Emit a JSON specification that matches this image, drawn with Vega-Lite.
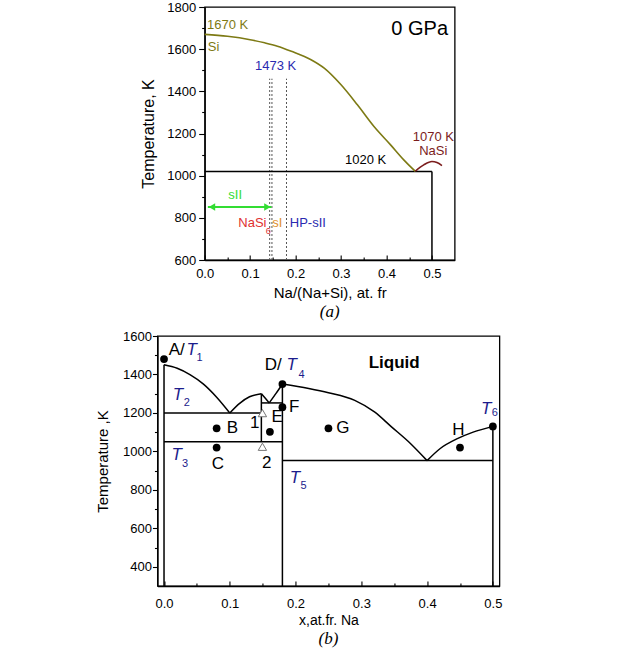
{
  "$schema": "https://vega.github.io/schema/vega-lite/v6.json",
  "padding": {"left": 94, "top": 0, "right": 0, "bottom": 0},
  "center": true,
  "align": "all",
  "spacing": 8,
  "config": {
    "font": "Liberation Sans",
    "view": {"stroke": "black", "strokeWidth": 1.3},
    "axis": {
      "grid": false,
      "domainColor": "black",
      "domainWidth": 1.3,
      "tickColor": "black",
      "tickWidth": 1.1,
      "labelColor": "black",
      "labelFont": "Liberation Sans",
      "titleFont": "Liberation Sans",
      "titleFontWeight": "normal",
      "titleColor": "black",
      "labelFlush": false,
      "labelOverlap": false
    },
    "text": {"font": "Liberation Sans", "baseline": "middle"}
  },
  "datasets": {
    "aBlack": [
      {"seg": "h", "i": 0, "x": 0, "t": 1020}, {"seg": "h", "i": 1, "x": 0.5, "t": 1020},
      {"seg": "v", "i": 0, "x": 0.5, "t": 1020}, {"seg": "v", "i": 1, "x": 0.5, "t": 600}
    ],
    "aDot": [
      {"seg": "d1", "i": 0, "x": 0.143, "t": 600}, {"seg": "d1", "i": 1, "x": 0.143, "t": 1460},
      {"seg": "d2", "i": 0, "x": 0.148, "t": 600}, {"seg": "d2", "i": 1, "x": 0.148, "t": 1460},
      {"seg": "d3", "i": 0, "x": 0.18, "t": 600}, {"seg": "d3", "i": 1, "x": 0.18, "t": 1460}
    ],
    "aSi": [
      {"x": 0, "t": 1670}, {"x": 0.05, "t": 1661}, {"x": 0.1, "t": 1645}, {"x": 0.132, "t": 1630},
      {"x": 0.16, "t": 1614}, {"x": 0.1906, "t": 1590}, {"x": 0.234, "t": 1550}, {"x": 0.263, "t": 1510},
      {"x": 0.3, "t": 1431}, {"x": 0.336, "t": 1336}, {"x": 0.3725, "t": 1233}, {"x": 0.409, "t": 1146},
      {"x": 0.438, "t": 1075}, {"x": 0.4636, "t": 1020}
    ],
    "aNaSi": [
      {"x": 0.4636, "t": 1022}, {"x": 0.482, "t": 1051}, {"x": 0.5, "t": 1067}, {"x": 0.511, "t": 1062}, {"x": 0.522, "t": 1048}
    ],
    "aArrow": [
      {"x": 0.007, "t": 851}, {"x": 0.147, "t": 851}
    ],
    "aArrowHead": [
      {"x": 0.016, "t": 851, "dir": "left"}, {"x": 0.138, "t": 851, "dir": "right"}
    ],
    "bLines": [
      {"seg": "L1", "i": 0, "x": 0, "t": 1450}, {"seg": "L1", "i": 1, "x": 0.02, "t": 1432}, {"seg": "L1", "i": 2, "x": 0.04, "t": 1398},
      {"seg": "L1", "i": 3, "x": 0.06, "t": 1350}, {"seg": "L1", "i": 4, "x": 0.08, "t": 1282}, {"seg": "L1", "i": 5, "x": 0.1, "t": 1200},
      {"seg": "L2", "i": 0, "x": 0.1, "t": 1200}, {"seg": "L2", "i": 1, "x": 0.115, "t": 1250}, {"seg": "L2", "i": 2, "x": 0.13, "t": 1284}, {"seg": "L2", "i": 3, "x": 0.148, "t": 1300},
      {"seg": "L3", "i": 0, "x": 0.148, "t": 1300}, {"seg": "L3", "i": 1, "x": 0.155, "t": 1272}, {"seg": "L3", "i": 2, "x": 0.16, "t": 1252},
      {"seg": "L4", "i": 0, "x": 0.16, "t": 1252}, {"seg": "L4", "i": 1, "x": 0.17, "t": 1300}, {"seg": "L4", "i": 2, "x": 0.18, "t": 1350},
      {"seg": "L5", "i": 0, "x": 0.18, "t": 1350}, {"seg": "L5", "i": 1, "x": 0.22, "t": 1327}, {"seg": "L5", "i": 2, "x": 0.25, "t": 1305},
      {"seg": "L5", "i": 3, "x": 0.29, "t": 1265}, {"seg": "L5", "i": 4, "x": 0.32, "t": 1205}, {"seg": "L5", "i": 5, "x": 0.345, "t": 1130},
      {"seg": "L5", "i": 6, "x": 0.375, "t": 1040}, {"seg": "L5", "i": 7, "x": 0.4, "t": 952},
      {"seg": "L6", "i": 0, "x": 0.4, "t": 952}, {"seg": "L6", "i": 1, "x": 0.42, "t": 1015}, {"seg": "L6", "i": 2, "x": 0.446, "t": 1066},
      {"seg": "L6", "i": 3, "x": 0.47, "t": 1100}, {"seg": "L6", "i": 4, "x": 0.5, "t": 1130},
      {"seg": "H1", "i": 0, "x": 0, "t": 1200}, {"seg": "H1", "i": 1, "x": 0.148, "t": 1200},
      {"seg": "H2", "i": 0, "x": 0, "t": 1050}, {"seg": "H2", "i": 1, "x": 0.18, "t": 1050},
      {"seg": "H3", "i": 0, "x": 0.18, "t": 952}, {"seg": "H3", "i": 1, "x": 0.5, "t": 952},
      {"seg": "H4", "i": 0, "x": 0.148, "t": 1252}, {"seg": "H4", "i": 1, "x": 0.18, "t": 1252},
      {"seg": "V1", "i": 0, "x": 0, "t": 300}, {"seg": "V1", "i": 1, "x": 0, "t": 1450},
      {"seg": "V2", "i": 0, "x": 0.148, "t": 1050}, {"seg": "V2", "i": 1, "x": 0.148, "t": 1300},
      {"seg": "V3", "i": 0, "x": 0.18, "t": 300}, {"seg": "V3", "i": 1, "x": 0.18, "t": 1350},
      {"seg": "V4", "i": 0, "x": 0.5, "t": 300}, {"seg": "V4", "i": 1, "x": 0.5, "t": 1130}
    ],
    "bDots": [
      {"x": 0, "t": 1480}, {"x": 0.08, "t": 1120}, {"x": 0.08, "t": 1020}, {"x": 0.18, "t": 1350},
      {"x": 0.161, "t": 1102}, {"x": 0.18, "t": 1230}, {"x": 0.25, "t": 1120}, {"x": 0.45, "t": 1020}, {"x": 0.5, "t": 1130}
    ],
    "bTri": [
      {"x": 0.1496, "t": 1199}, {"x": 0.1496, "t": 1024}
    ],
    "bLabels": [
      {"x": 0.0193, "t": 1528, "text": "A/"}, {"x": 0.104, "t": 1121, "text": "B"}, {"x": 0.082, "t": 934, "text": "C"},
      {"x": 0.166, "t": 1450, "text": "D/"}, {"x": 0.172, "t": 1177, "text": "E"}, {"x": 0.198, "t": 1229, "text": "F"},
      {"x": 0.272, "t": 1121, "text": "G"}, {"x": 0.4475, "t": 1113, "text": "H"}, {"x": 0.138, "t": 1147, "text": "1"},
      {"x": 0.156, "t": 939, "text": "2"}
    ],
    "bLiquid": [{"x": 0.35, "t": 1462, "text": "Liquid"}],
    "bT": [
      {"x": 0.042, "t": 1528, "text": "T"}, {"x": 0.0213, "t": 1295, "text": "T"}, {"x": 0.0193, "t": 979, "text": "T"},
      {"x": 0.194, "t": 1450, "text": "T"}, {"x": 0.199, "t": 860, "text": "T"}, {"x": 0.49, "t": 1221, "text": "T"}
    ],
    "bSub": [
      {"x": 0.054, "t": 1488, "text": "1"}, {"x": 0.0345, "t": 1251, "text": "2"}, {"x": 0.032, "t": 934, "text": "3"},
      {"x": 0.209, "t": 1398, "text": "4"}, {"x": 0.212, "t": 822, "text": "5"}, {"x": 0.503, "t": 1200, "text": "6"}
    ]
  },
  "vconcat": [
    {
      "width": 250,
      "height": 253,
      "title": {"text": "(a)", "orient": "bottom", "font": "Liberation Serif", "fontStyle": "italic", "fontWeight": "normal", "fontSize": 17, "color": "black", "offset": 4},
      "encoding": {
        "x": {
          "field": "x", "type": "quantitative",
          "scale": {"domain": [0, 0.55], "nice": false, "zero": false},
          "axis": {
            "values": [0, 0.05, 0.1, 0.15, 0.2, 0.25, 0.3, 0.35, 0.4, 0.45, 0.5],
            "format": ".1f",
            "labelExpr": "round(datum.value*100) % 10 === 0 ? datum.label : ''",
            "tickSize": {"condition": {"test": "round(datum.value*100) % 10 === 0", "value": -5}, "value": -3},
            "labelPadding": 12,
            "labelFontSize": 13,
            "title": "Na/(Na+Si), at. fr",
            "titleFontSize": 15,
            "titlePadding": 3
          }
        },
        "y": {
          "field": "t", "type": "quantitative",
          "scale": {"domain": [600, 1800], "nice": false, "zero": false},
          "axis": {
            "values": [600, 700, 800, 900, 1000, 1100, 1200, 1300, 1400, 1500, 1600, 1700, 1800],
            "format": "d",
            "labelExpr": "datum.value % 200 === 0 ? datum.label : ''",
            "tickSize": {"condition": {"test": "datum.value % 200 === 0", "value": 6}, "value": 3},
            "labelPadding": 3,
            "labelFontSize": 13,
            "title": "Temperature, K",
            "titleFontSize": 16,
            "titlePadding": 10
          }
        }
      },
      "layer": [
        {"data": {"name": "aDot"}, "mark": {"type": "line", "color": "#555555", "strokeWidth": 1, "strokeDash": [2, 2]},
         "encoding": {"detail": {"field": "seg"}, "order": {"field": "i"}}},
        {"data": {"name": "aBlack"}, "mark": {"type": "line", "color": "black", "strokeWidth": 1.5},
         "encoding": {"detail": {"field": "seg"}, "order": {"field": "i"}}},
        {"data": {"name": "aSi"}, "mark": {"type": "line", "color": "#7d7a14", "strokeWidth": 1.6, "interpolate": "monotone"}, "encoding": {}},
        {"data": {"name": "aNaSi"}, "mark": {"type": "line", "color": "#7b1c1c", "strokeWidth": 1.6, "interpolate": "monotone"}, "encoding": {}},
        {"data": {"name": "aArrow"}, "mark": {"type": "line", "color": "#33dd33", "strokeWidth": 2}, "encoding": {}},
        {"data": {"name": "aArrowHead"}, "mark": {"type": "point", "filled": true, "color": "#33dd33", "size": 55, "opacity": 1},
         "encoding": {"shape": {"field": "dir", "type": "nominal", "scale": {"domain": ["left", "right"], "range": ["triangle-left", "triangle-right"]}, "legend": null}}},
        {"data": {"values": [{"x": 0.005, "t": 1713, "text": "1670 K"}, {"x": 0.007, "t": 1609, "text": "Si"}]},
         "mark": {"type": "text", "align": "left", "fontSize": 13, "color": "#7d7a14"}, "encoding": {"text": {"field": "text"}}},
        {"data": {"values": [{"x": 0.156, "t": 1521, "text": "1473 K"}, {"x": 0.227, "t": 774, "text": "HP-sII"}]},
         "mark": {"type": "text", "align": "center", "fontSize": 13, "color": "#2a2ab0"}, "encoding": {"text": {"field": "text"}}},
        {"data": {"values": [{"x": 0.354, "t": 1075, "text": "1020 K"}]},
         "mark": {"type": "text", "align": "center", "fontSize": 13, "color": "black"}, "encoding": {"text": {"field": "text"}}},
        {"data": {"values": [{"x": 0.473, "t": 1695, "text": "0 GPa"}]},
         "mark": {"type": "text", "align": "center", "fontSize": 20, "color": "black"}, "encoding": {"text": {"field": "text"}}},
        {"data": {"values": [{"x": 0.503, "t": 1184, "text": "1070 K"}, {"x": 0.503, "t": 1116, "text": "NaSi"}]},
         "mark": {"type": "text", "align": "center", "fontSize": 13, "color": "#7b1c1c"}, "encoding": {"text": {"field": "text"}}},
        {"data": {"values": [{"x": 0.067, "t": 907, "text": "sII"}]},
         "mark": {"type": "text", "align": "center", "fontSize": 13, "color": "#33dd33"}, "encoding": {"text": {"field": "text"}}},
        {"data": {"values": [{"x": 0.136, "t": 774, "text": "NaSi"}]},
         "mark": {"type": "text", "align": "right", "fontSize": 13, "color": "#e03030"}, "encoding": {"text": {"field": "text"}}},
        {"data": {"values": [{"x": 0.14, "t": 739, "text": "6"}]},
         "mark": {"type": "text", "align": "center", "fontSize": 9, "color": "#e03030"}, "encoding": {"text": {"field": "text"}}},
        {"data": {"values": [{"x": 0.16, "t": 774, "text": "sI"}]},
         "mark": {"type": "text", "align": "center", "fontSize": 13, "color": "#e0902e"}, "encoding": {"text": {"field": "text"}}}
      ]
    },
    {
      "width": 342,
      "height": 250,
      "title": {"text": "(b)", "orient": "bottom", "font": "Liberation Serif", "fontStyle": "italic", "fontWeight": "normal", "fontSize": 17, "color": "black", "offset": 4},
      "encoding": {
        "x": {
          "field": "x", "type": "quantitative",
          "scale": {"domain": [-0.01, 0.51], "nice": false, "zero": false},
          "axis": {
            "values": [0, 0.05, 0.1, 0.15, 0.2, 0.25, 0.3, 0.35, 0.4, 0.45, 0.5],
            "format": ".1f",
            "labelExpr": "round(datum.value*100) % 10 === 0 ? datum.label : ''",
            "tickSize": {"condition": {"test": "round(datum.value*100) % 10 === 0", "value": -5}, "value": -3},
            "labelPadding": 16,
            "labelFontSize": 13,
            "title": "x,at.fr. Na",
            "titleFontSize": 14,
            "titlePadding": 1
          }
        },
        "y": {
          "field": "t", "type": "quantitative",
          "scale": {"domain": [300, 1600], "nice": false, "zero": false},
          "axis": {
            "values": [400, 500, 600, 700, 800, 900, 1000, 1100, 1200, 1300, 1400, 1500, 1600],
            "format": "d",
            "labelExpr": "datum.value % 200 === 0 ? datum.label : ''",
            "tickSize": {"condition": {"test": "datum.value % 200 === 0", "value": 5}, "value": 3},
            "labelPadding": 1,
            "labelFontSize": 13,
            "title": "Temperature ,K",
            "titleFontSize": 15,
            "titlePadding": 12
          }
        }
      },
      "layer": [
        {"data": {"name": "bLines"}, "mark": {"type": "line", "color": "black", "strokeWidth": 1.5, "interpolate": "monotone"},
         "encoding": {"detail": {"field": "seg"}, "order": {"field": "i"}}},
        {"data": {"name": "bDots"}, "mark": {"type": "circle", "color": "black", "size": 60, "opacity": 1}, "encoding": {}},
        {"data": {"name": "bTri"}, "mark": {"type": "point", "shape": "triangle-up", "filled": true, "fill": "white", "stroke": "#777777", "strokeWidth": 1, "size": 70, "opacity": 1}, "encoding": {}},
        {"data": {"name": "bLabels"}, "mark": {"type": "text", "align": "center", "fontSize": 17, "color": "black"}, "encoding": {"text": {"field": "text"}}},
        {"data": {"name": "bLiquid"}, "mark": {"type": "text", "align": "center", "fontSize": 17, "fontWeight": "bold", "color": "black"}, "encoding": {"text": {"field": "text"}}},
        {"data": {"name": "bT"}, "mark": {"type": "text", "align": "center", "fontSize": 17, "fontStyle": "italic", "color": "#1c1c8c"}, "encoding": {"text": {"field": "text"}}},
        {"data": {"name": "bSub"}, "mark": {"type": "text", "align": "center", "fontSize": 11, "color": "#1c1c8c"}, "encoding": {"text": {"field": "text"}}}
      ]
    }
  ]
}
